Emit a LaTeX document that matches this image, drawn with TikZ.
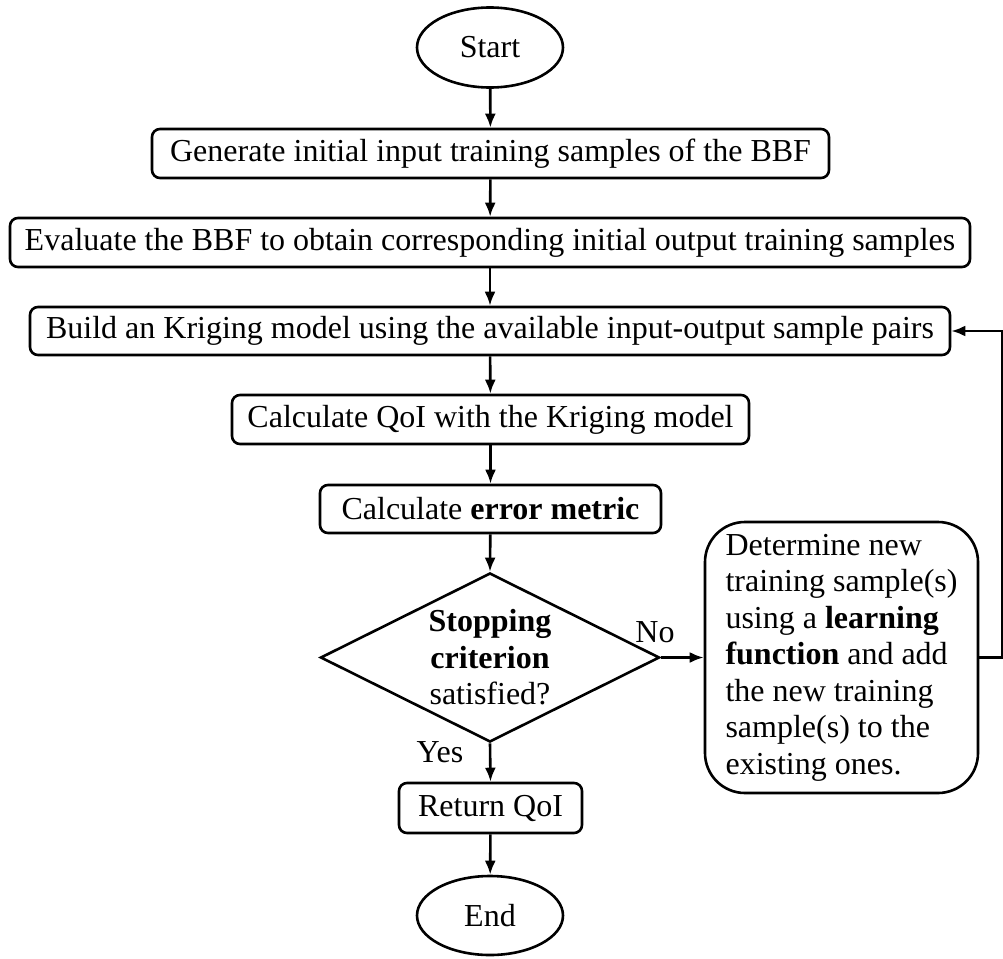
\documentclass[tikz,border=0pt]{standalone}
\usepackage{fontspec}
\setmainfont{Liberation Serif}
\usetikzlibrary{shapes.geometric,arrows.meta}
\begin{document}
\begin{tikzpicture}[x=1pt,y=1pt,
  every node/.style={font=\fontsize{32}{36.5}\selectfont},
  arr/.style={line width=2.6pt,-{Latex[length=14pt,width=11pt]}},
  stepbox/.style={draw,line width=2.6pt,rounded corners=8pt,inner sep=0pt,minimum height=49pt},
  term/.style={draw,line width=2.6pt,ellipse,inner sep=0pt,minimum width=146pt,minimum height=80pt},
  lbl/.style={inner sep=0pt}
]
\useasboundingbox (0,0) rectangle (1003,-958);
\node[term] (start) at (490,-47.5) {Start};
\node[stepbox,minimum width=677pt] (b1) at (490.5,-153.5) {Generate initial input training samples of the BBF};
\node[stepbox,minimum width=960pt] (b2) at (490,-242.5) {Evaluate the BBF to obtain corresponding initial output training samples};
\node[stepbox,minimum width=920pt,minimum height=48pt] (b3) at (490,-331) {Build an Kriging model using the available input-output sample pairs};
\node[stepbox,minimum width=517pt] (b4) at (490.5,-419.5) {Calculate QoI with the Kriging model};
\node[stepbox,minimum width=341pt,minimum height=48pt] (b5) at (490.5,-509) {Calculate \textbf{error metric}};
\node[draw,line width=2.6pt,diamond,inner sep=0pt,minimum width=339pt,minimum height=169pt] (dec) at (490,-657.5) {};
\node[lbl,align=center] (dectext) at (dec.center) {\textbf{Stopping}\\\textbf{criterion}\\satisfied?};
\node[draw,line width=2.6pt,rounded corners=40pt,inner sep=0pt,minimum width=273pt,minimum height=271pt,align=left] (rb) at (841.5,-657.5) {Determine new\\training sample(s)\\using a \textbf{learning}\\\textbf{function} and add\\the new training\\sample(s) to the\\existing ones.};
\node[stepbox,minimum width=183pt,minimum height=50pt] (ret) at (490.5,-808) {Return QoI};
\node[term,minimum height=79pt] (end) at (490,-915.5) {End};
\node[lbl] (no) at (655,-632) {No};
\node[lbl] (yes) at (440,-752) {Yes};
\draw[arr] (start) -- (b1);
\draw[arr] (b1) -- (b2);
\draw[arr] (b2) -- (b3);
\draw[arr] (b3) -- (b4);
\draw[arr] (b4) -- (b5);
\draw[arr] (b5) -- (dec.north);
\draw[arr] (dec.east) -- (rb.west);
\draw[arr] (dec.south) -- (ret.north);
\draw[arr] (ret) -- (end);
\draw[arr] (rb.east) -- ++(23,0) |- (b3.east);
\end{tikzpicture}
\end{document}
